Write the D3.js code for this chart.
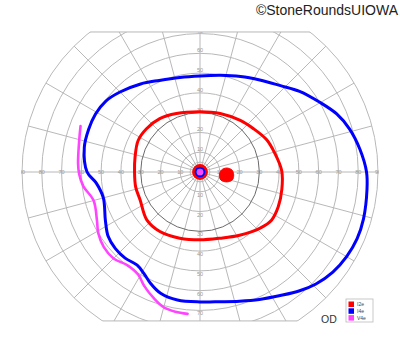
<!DOCTYPE html>
<html lang="en">
<head>
	<meta charset="UTF-8">
	<script type="text/javascript" src="https://d3js.org/d3.v7.min.js"></script>
	<title>goldmann field</title>
	<style>
        body{ margin: 0; background: #fff; }
        .grid circle, .grid line{
            fill: none;
            stroke: #b8b8b8;
            stroke-width: 1px;
        }
        .ticks text{
            font-family: "Liberation Sans", Arial, sans-serif;
            font-size: 5.5px;
            fill: #999;
            text-anchor: middle;
            dominant-baseline: central;
        }
	</style>
</head>
<body>
<svg id="svg1" width="400" height="352"></svg>
<script>
	// isopters as [meridian deg, eccentricity deg]
	const i4eField = [[0,84.2],[8,81.7],[16,78.7],[23,75.1],[30,70.2],[39,64.8],[47,59.7],[57,55.5],[67,52.5],[78,50],
		[90,48.6],[102,48.9],[114,50.7],[124,53.7],[135,57.2],[143,59.6],[151,60.4],[159,60.3],[168,59.8],[180,57.1],
		[186,52.8],[195,50.6],[207,53.7],[215,56.7],[222,57.7],[229,57.7],[236,56.8],[241,58.6],[246,61.6],[252,64.5],
		[260,65.7],[270,65.7],[279,66.4],[287,68.3],[295,71.1],[303,74.5],[310,78.4],[316,81.5],[323,84.1],[330,85.6],
		[337,86.3],[344,86.0],[354,84.9]];
	const i2eField = [[1,41.3],[14,39.0],[26,37.4],[39,34.8],[52,33.1],[71,31.3],[90,30.5],[112,31.9],[127,33.8],
		[141,34.8],[153,35.1],[167,33.7],[180,33.1],[193,33.4],[205,33.4],[222,36.2],[236,36.3],[253,35.0],[270,34.3],
		[287,35.0],[302,37.7],[317,41.6],[326,43.6],[336,43.3],[348,42.3]];
	const v4eField = [[159,64.7],[165,63.2],[176,61.8],[181,61.1],[187,59.4],[195,55.7],[205,57.5],[211,60.0],
		[218,61.7],[225,61.8],[232,59.8],[239,60.6],[244,64.2],[250,68.0],[255,70.8],[260,71.7],[265,72.0]];
	const blindSpot = [[355,17.1],[3.5,16.2],[8.5,13.6],[5.3,10.9],[351,9.9],[339,11.3],[339.5,14.3],[346,16.8]];
	// central islands: I2e, I4e, V4e
	const centralEcc = [3.2, 2.2, 1.6];

	const rings = [5, 10, 20, 30, 40, 50, 60, 70, 80, 90];
	const meridians = d3.range(0, 360, 15);
	const hTicks = [10, 20, 30, 40, 50, 60, 70, 80, 90];
	const vTicks = [10, 20, 30, 40, 50, 60, 70];

	const legendNames = ["I2e", "I4e", "V4e"];
	const legendColors = ["#ff0000", "#0000ff", "#ff44ff"];

	const svg = d3.select("#svg1");
	const cx = 200, cy = 172;
	const r = d3.scaleLinear().domain([0, 90]).range([0, 178]);
	const topLimit = 70.8, bottomLimit = 75.3;

	const defs = svg.append("defs");
	defs.append("clipPath").attr("id", "clipCircle")
		.append("circle").attr("r", r(90) + 1);
	defs.append("clipPath").attr("id", "clipBand")
		.append("rect")
		.attr("x", -cx).attr("y", -r(topLimit))
		.attr("width", 400).attr("height", r(topLimit) + r(bottomLimit));

	const root = svg.append("g").attr("transform", "translate(" + cx + "," + cy + ")");
	const g = root.append("g").attr("clip-path", "url(#clipBand)")
		.append("g").attr("clip-path", "url(#clipCircle)");

	const grid = g.append("g").attr("class", "grid");
	grid.selectAll("line")
		.data(meridians)
		.join("line")
		.attr("x1", 0).attr("y1", 0)
		.attr("x2", d => r(90) * Math.cos(d * Math.PI / 180))
		.attr("y2", d => -r(90) * Math.sin(d * Math.PI / 180));
	grid.selectAll("circle")
		.data(rings)
		.join("circle")
		.attr("r", d => r(d))
		.style("stroke", d => d === 30 ? "#6a6a6a" : null);

	// top and bottom border
	[topLimit, -bottomLimit].forEach(v => {
		const yy = -r(v);
		const half = Math.sqrt(r(90) * r(90) - yy * yy);
		root.append("line")
			.attr("x1", -half).attr("x2", half)
			.attr("y1", yy).attr("y2", yy)
			.style("stroke", "#b8b8b8");
	});

	const ticks = g.append("g").attr("class", "ticks");
	hTicks.forEach(v => {
		ticks.append("text").attr("x", r(v)).attr("y", 0).text(v);
		ticks.append("text").attr("x", -r(v)).attr("y", 0).text(v);
	});
	vTicks.forEach(v => {
		ticks.append("text").attr("x", 0).attr("y", -r(v) - 3).text(v);
		ticks.append("text").attr("x", 0).attr("y", r(v) + 3).text(v);
	});

	const toAngle = d => (90 - d[0]) * Math.PI / 180;
	const closedLine = d3.lineRadial().angle(toAngle).radius(d => r(d[1])).curve(d3.curveCatmullRomClosed);
	const openLine = d3.lineRadial().angle(toAngle).radius(d => r(d[1])).curve(d3.curveCatmullRom);

	g.append("path").datum(i2eField)
		.attr("d", closedLine)
		.attr("fill", "none").attr("stroke", legendColors[0]).attr("stroke-width", 3);
	g.append("path").datum(i4eField)
		.attr("d", closedLine)
		.attr("fill", "none").attr("stroke", legendColors[1]).attr("stroke-width", 3);
	g.append("path").datum(v4eField)
		.attr("d", openLine)
		.attr("fill", "none").attr("stroke", legendColors[2]).attr("stroke-width", 2.6)
		.attr("stroke-linecap", "round");
	g.append("path").datum(blindSpot)
		.attr("d", closedLine)
		.attr("fill", legendColors[0]).attr("stroke", legendColors[0]).attr("stroke-width", 1);

	// central islands
	g.append("circle").attr("r", r(centralEcc[0]))
		.attr("fill", "none").attr("stroke", legendColors[0]).attr("stroke-width", 3.2);
	g.append("circle").attr("r", r(centralEcc[2]))
		.attr("fill", legendColors[2]);
	g.append("circle").attr("r", r(centralEcc[1]))
		.attr("fill", "none").attr("stroke", legendColors[1]).attr("stroke-width", 2);

	// legend
	const legend = svg.append("g").attr("transform", "translate(346,299)");
	legend.append("rect")
		.attr("width", 27).attr("height", 23)
		.attr("fill", "#fff").attr("stroke", "#bbb").attr("stroke-width", 0.8);
	legendNames.forEach((name, i) => {
		legend.append("rect")
			.attr("x", 2.5).attr("y", 2.5 + i * 6.8)
			.attr("width", 5.5).attr("height", 5.5)
			.attr("fill", legendColors[i]);
		legend.append("text")
			.attr("x", 11).attr("y", 5.4 + i * 6.8)
			.attr("dominant-baseline", "central")
			.style("font-family", "Liberation Sans, Arial, sans-serif")
			.style("font-size", "5px")
			.style("fill", "#444")
			.text(name);
	});

	svg.append("text")
		.attr("x", 321).attr("y", 323)
		.style("font-family", "Liberation Sans, Arial, sans-serif")
		.style("font-size", "10.5px")
		.style("fill", "#333")
		.text("OD");

	svg.append("text")
		.attr("x", 398).attr("y", 15)
		.attr("text-anchor", "end")
		.style("font-family", "Liberation Sans, Arial, sans-serif")
		.style("font-size", "14px")
		.style("fill", "#222")
		.text("©StoneRoundsUIOWA");
</script>
</body>
</html>
